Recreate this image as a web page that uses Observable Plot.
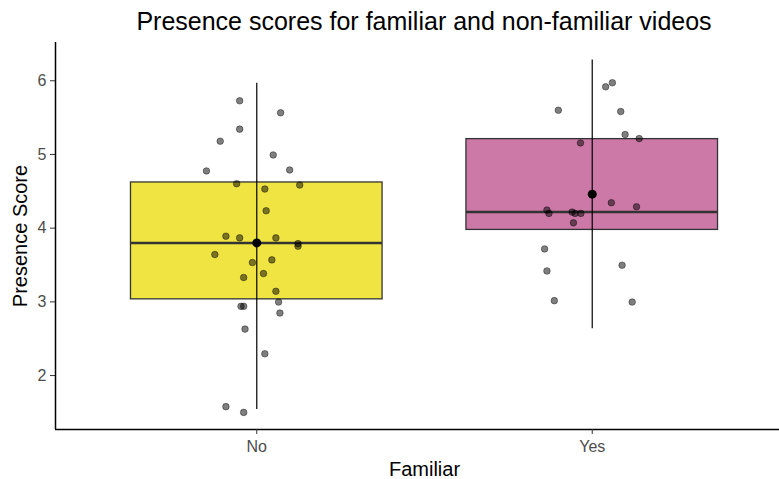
<!DOCTYPE html>
<html><head><meta charset="utf-8">
<script src="https://cdn.jsdelivr.net/npm/d3@7"></script>
<script src="https://cdn.jsdelivr.net/npm/@observablehq/plot@0.6"></script>
<style>
body{margin:0;background:#fff;}
#wrap{width:779px;height:479px;overflow:hidden;position:relative;font-family:"Liberation Sans",Arial,sans-serif;background:#fff;}
#title{height:42px;width:848px;text-align:center;font-size:25px;line-height:24px;padding-top:9px;box-sizing:border-box;color:#000;white-space:nowrap;}
#chart{width:793px;}
#chart svg{display:block;max-width:none !important;}
</style></head><body>
<div id="wrap"><div id="title">Presence scores for familiar and non-familiar videos</div><div id="chart"></div></div>
<script>
const categories = ["No", "Yes"];
const boxFills = ["#F0E442", "#CC79A7"];
const q1 = [3.034, 3.976];
const median = [3.799, 4.220];
const q3 = [4.620, 5.208];
const mean = [3.800, 4.461];
const errLow = [1.539, 2.636];
const errHigh = [5.965, 6.281];

const noScores = [5.728, 5.565, 5.343, 5.18, 4.993, 4.776, 4.789, 4.603, 4.531, 4.585, 4.236, 3.891, 3.868, 3.868, 3.79, 3.755, 3.642, 3.533, 3.569, 3.384, 3.33, 3.143, 2.997, 2.939, 2.939, 2.848, 2.63, 2.295, 1.578, 1.50];
const noJitter = [-0.051, 0.071, -0.051, -0.109, 0.049, -0.150, 0.098, -0.060, 0.024, 0.128, 0.028, -0.092, -0.051, 0.057, 0.123, 0.123, -0.125, -0.013, 0.045, 0.020, -0.039, 0.057, 0.065, -0.047, -0.039, 0.069, -0.035, 0.024, -0.092, -0.039];
const yesScores = [5.973, 5.918, 5.60, 5.582, 5.27, 5.215, 5.156, 4.345, 4.29, 4.245, 4.2, 4.218, 4.2, 4.2, 4.072, 3.718, 3.419, 3.016, 3.497, 2.997];
const yesJitter = [0.060, 0.040, -0.101, 0.085, 0.098, 0.140, -0.035, 0.057, 0.132, -0.135, -0.129, -0.060, -0.051, -0.034, -0.056, -0.142, -0.135, -0.113, 0.089, 0.119];
const yTicks = [2, 3, 4, 5, 6];

const points = [];
noScores.forEach((v, i) => points.push({x: 1 + noJitter[i], y: v}));
yesScores.forEach((v, i) => points.push({x: 2 + yesJitter[i], y: v}));
const boxes = categories.map((c, i) => ({c, x: i + 1, fill: boxFills[i], q1: q1[i], med: median[i], q3: q3[i], mean: mean[i], lo: errLow[i], hi: errHigh[i]}));

const chart = Plot.plot({
  width: 793, height: 437,
  marginTop: 0, marginBottom: 50, marginLeft: 55, marginRight: 0,
  x: {domain: [0.4, 2.6]},
  y: {domain: [1.268, 6.519]},
  color: {type: "identity"},
  style: {fontFamily: "Liberation Sans, Arial, sans-serif", background: "white", overflow: "visible", maxWidth: "none"},
  marks: [
    Plot.rect(boxes, {x1: d => d.x - 0.375, x2: d => d.x + 0.375, y1: "q1", y2: "q3", fill: "fill", stroke: "#333333", strokeWidth: 1.3}),
    Plot.ruleY(boxes, {y: "med", x1: d => d.x - 0.375, x2: d => d.x + 0.375, stroke: "#333333", strokeWidth: 2.6}),
    Plot.dot(points, {x: "x", y: "y", r: 3.3, fill: "black", fillOpacity: 0.5, stroke: "black", strokeOpacity: 0.5, strokeWidth: 0.8}),
    Plot.ruleX(boxes, {x: "x", y1: "lo", y2: "hi", stroke: "black", strokeWidth: 1.2}),
    Plot.dot(boxes, {x: "x", y: "mean", r: 4.5, fill: "black"}),
    Plot.ruleX([0.4], {stroke: "black", strokeWidth: 1.5}),
    Plot.ruleY([1.268], {stroke: "black", strokeWidth: 1.5}),
    Plot.axisY({ticks: yTicks, tickFormat: d => String(d), tickSize: 5, tickPadding: 4, fontSize: 16, stroke: "#333333", fill: "#4d4d4d", label: null}),
    Plot.axisX({ticks: [1, 2], tickFormat: d => categories[d - 1], tickSize: 5, tickPadding: 6, fontSize: 16, stroke: "#333333", fill: "#4d4d4d", label: null}),
    Plot.text(["Presence Score"], {frameAnchor: "left", textAnchor: "middle", lineAnchor: "middle", dx: -35, rotate: -90, fontSize: 20, fill: "black"}),
    Plot.text(["Familiar"], {frameAnchor: "bottom", textAnchor: "middle", dy: 32.5, lineAnchor: "top", fontSize: 20, fill: "black"})
  ]
});
document.getElementById("chart").appendChild(chart);
</script>
</body></html>
